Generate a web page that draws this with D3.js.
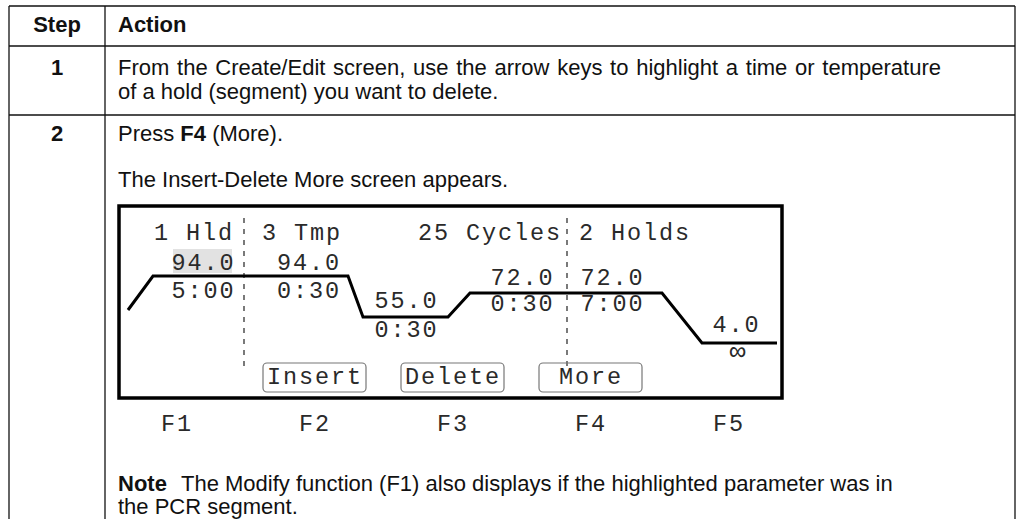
<!DOCTYPE html>
<html><head><meta charset="utf-8">
<script src="https://cdn.jsdelivr.net/npm/d3@7"></script>
<style>body{margin:0;background:#fff;overflow:hidden}</style></head>
<body><svg id="c" width="1018" height="519"></svg>
<script>
// ---- data ----
const headers = ["Step", "Action"];
const stepNums = ["1", "2"];
const step1Lines = ["From the Create/Edit screen, use the arrow keys to highlight a time or temperature",
                    "of a hold (segment) you want to delete."];
const step2Parts = [["Press ", false], ["F4", true], [" (More).", false]];
const step2Line2 = "The Insert-Delete More screen appears.";
const noteLabel = "Note";
const noteLines = ["The Modify function (F1) also displays if the highlighted parameter was in",
                   "the PCR segment."];
const stageLabels = ["1 Hld", "3 Tmp", "25 Cycles", "2 Holds"];
const temps = [94.0, 94.0, 55.0, 72.0, 72.0, 4.0];
const times = ["5:00", "0:30", "0:30", "0:30", "7:00", "\u221E"];
const softKeys = ["Insert", "Delete", "More"];
const fKeys = ["F1", "F2", "F3", "F4", "F5"];

// ---- layout ----
const svg = d3.select("#c");
const sans = "'Liberation Sans', Arial, Helvetica, sans-serif";
const mono = "'Liberation Mono', 'Courier New', monospace";
const tbl = {left: 9, right: 1015, col: 105, rows: [6, 46, 115], bottom: 530};
const textX = 118;
const bodySize = 22;

// table lines
const g = svg.append("g").attr("stroke", "#111").attr("stroke-width", 1.3);
tbl.rows.forEach(y => g.append("line").attr("x1", tbl.left).attr("x2", tbl.right).attr("y1", y).attr("y2", y));
[tbl.left, tbl.col, tbl.right].forEach(x => g.append("line").attr("x1", x).attr("x2", x).attr("y1", tbl.rows[0]).attr("y2", tbl.bottom));

const colC = (tbl.left + tbl.col) / 2;
function txt(x, y, s, opts = {}) {
  return svg.append("text").attr("x", x).attr("y", y).text(s)
    .attr("font-family", opts.family || sans).attr("font-size", opts.size || bodySize)
    .attr("font-weight", opts.bold ? "bold" : null)
    .attr("word-spacing", opts.ws || null)
    .attr("text-anchor", opts.anchor || "start").attr("fill", opts.fill || "#111");
}
// header
txt(colC, 32, headers[0], {bold: true, anchor: "middle"});
txt(textX, 32, headers[1], {bold: true});
// step 1
txt(colC, 75, stepNums[0], {bold: true, anchor: "middle"});
step1Lines.forEach((l, i) => txt(textX, 75 + i * 24, l, {ws: i === 0 ? 1.6 : null}));
// step 2
txt(colC, 141, stepNums[1], {bold: true, anchor: "middle"});
const p = txt(textX, 141, "");
step2Parts.forEach(([s, b]) => p.append("tspan").text(s).attr("font-weight", b ? "bold" : null));
txt(textX, 187, step2Line2);
// note
txt(textX, 491, noteLabel, {bold: true});
txt(181, 491, noteLines[0]);
txt(textX, 514, noteLines[1]);

// ---- LCD screen ----
const box = {x0: 119, x1: 782, y0: 206, y1: 398};
svg.append("rect").attr("x", box.x0).attr("y", box.y0)
  .attr("width", box.x1 - box.x0).attr("height", box.y1 - box.y0)
  .attr("fill", "none").attr("stroke", "#000").attr("stroke-width", 3.5);

const lcdSize = 23.5, lcdLS = 1.9;   // advance = 23.5*0.6 + 1.9 = 16px
function lcd(x, y, s, anchor = "start", size = lcdSize, ls = lcdLS) {
  return svg.append("text").attr("x", x).attr("y", y).text(s)
    .attr("font-family", mono).attr("font-size", size).attr("letter-spacing", ls)
    .attr("text-anchor", anchor).attr("fill", "#2a2a2a");
}

// segment geometry (x) and temperature (y) scales
const segX = d3.scaleLinear().domain(d3.range(7)).range([128, 244, 348, 448, 567, 662, 777]);
const rampW = [25, 0, 15, 22, 0, 40];
const tempY = d3.scaleLinear().domain([4, 55, 72, 94]).range([343, 317, 293, 276]);
const rampStartY = 310;
const labelDx = [4, 12, 0, 3, -3, -4];
const tempDy = [-6, -6, -9, -8, -8, -11];
const timeDy = [22, 22, 20, 18, 18, 11];

// stage separators (between hold / cycle / holds)
const stageBounds = [1, 4];
stageBounds.forEach(b => svg.append("line")
  .attr("x1", segX(b)).attr("x2", segX(b)).attr("y1", 218).attr("y2", 372)
  .attr("stroke", "#222").attr("stroke-width", 1.2).attr("stroke-dasharray", "5,6"));

// stage labels placed around the separators
const stageAt = [[1, -90], [1, 18], [4, -149], [4, 12]];
stageLabels.forEach((s, i) => lcd(segX(stageAt[i][0]) + stageAt[i][1], 240, s));

// profile line
const pts = [[segX(0), rampStartY]];
temps.forEach((t, i) => {
  pts.push([segX(i) + rampW[i], tempY(t)]);
  pts.push([segX(i + 1), tempY(t)]);
});
svg.append("path").attr("d", d3.line()(pts)).attr("fill", "none")
  .attr("stroke", "#000").attr("stroke-width", 3).attr("stroke-linejoin", "miter");

// temperature / time labels
temps.forEach((t, i) => {
  const cx = (segX(i) + rampW[i] + segX(i + 1)) / 2 + labelDx[i];
  const y = tempY(t);
  if (i === 0) {
    svg.insert("rect", "path").attr("x", cx - 29.5).attr("y", y + tempDy[i] - 21)
      .attr("width", 59).attr("height", 24).attr("fill", "#e2e2e2");
  }
  lcd(cx + 0.95, y + tempDy[i], t.toFixed(1), "middle");
  if (times[i] === "\u221E") lcd(cx + 2, y + timeDy[i] + 6, times[i], "middle", 27, 0);
  else lcd(cx + 0.95, y + timeDy[i], times[i], "middle");
});

// soft keys and function keys
const fX = d3.scaleLinear().domain([0, 4]).range([176, 728]);
softKeys.forEach((k, i) => {
  const cx = fX(i + 1);
  svg.append("rect").attr("x", cx - 51).attr("y", 363).attr("width", 103).attr("height", 29)
    .attr("rx", 4).attr("fill", "none").attr("stroke", "#777").attr("stroke-width", 1.2);
  lcd(cx + 1, 384, k, "middle");
});
fKeys.forEach((k, i) => lcd(fX(i) + 1, 431, k, "middle"));
</script>
</body></html>
